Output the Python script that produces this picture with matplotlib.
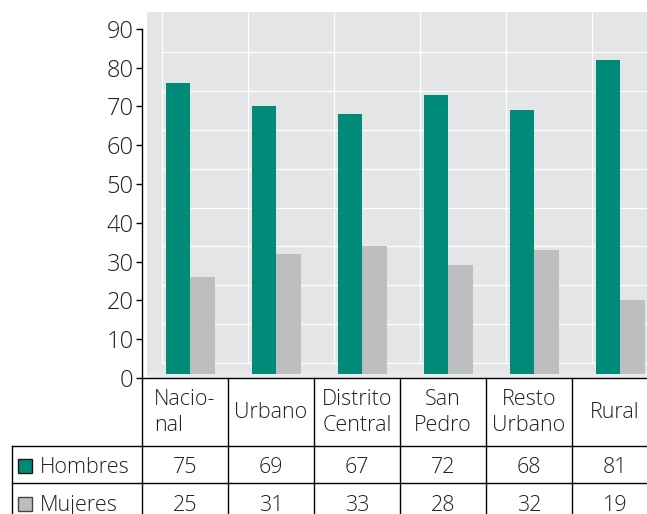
import matplotlib.pyplot as plt
from matplotlib.patches import Rectangle

plt.rcParams['font.family'] = ['Open Sans', 'DejaVu Sans']
plt.rcParams['font.weight'] = 'light'

categories = ["Nacio-\nnal", "Urbano", "Distrito\nCentral", "San\nPedro", "Resto\nUrbano", "Rural"]
hombres = [75, 69, 67, 72, 68, 81]
mujeres = [25, 31, 33, 28, 32, 19]
yticks = [0, 10, 20, 30, 40, 50, 60, 70, 80, 90]

teal = "#008A78"
grey = "#BDBEC0"
txt = "#231F20"

fig = plt.figure(figsize=(6.47, 5.14), dpi=100)
ax = fig.add_axes([142 / 647, 136 / 514, 516 / 647, 366 / 514])
ax.set_xlim(0, 6)
ax.set_ylim(0, 94.33)
ax.patch.set_visible(False)

# plot background (pseudo 3D wall)
ax.add_patch(Rectangle((0.058, 0), 6, 94.33, facecolor="#E4E5E7", edgecolor="none", zorder=0))
ax.add_patch(Rectangle((0.058, 0), 6, 1.2, facecolor="#EAEBEC", edgecolor="none", zorder=0.5))
for v in range(9):
    ax.plot([0.24, 6], [3.9 + 10 * v, 3.9 + 10 * v], color="white", lw=0.9, zorder=1)
for k in range(6):
    ax.plot([k + 0.233, k + 0.233], [3.9, 94.33], color="white", lw=0.9, zorder=1)

n = len(categories)
xs = range(n)
w = 0.285
ax.bar([x + 0.42 for x in xs], hombres, width=w, bottom=1, color=teal, zorder=2)
ax.bar([x + 0.705 for x in xs], mujeres, width=w, bottom=1, color=grey, zorder=2)

# axes styling
for s in ["top", "right"]:
    ax.spines[s].set_visible(False)
ax.spines["left"].set_bounds(0, 90)
ax.spines["left"].set_linewidth(1)
ax.spines["bottom"].set_linewidth(1)
ax.set_yticks(yticks)
ax.set_xticks([])
ax.tick_params(axis="y", direction="out", length=4, width=1, pad=2,
               labelsize=17, labelcolor=txt)

# data table below the chart
y_head = -17.5
y_row1 = -27.06
y_bot = -36
x_left = -1.512
lk = dict(color="black", lw=1, clip_on=False, zorder=3)
ax.plot([0, 0], [0, y_bot], **lk)
for k in range(1, n):
    ax.plot([k, k], [0, y_bot], **lk)
ax.plot([x_left, x_left], [y_head, y_bot], **lk)
ax.plot([x_left, 6], [y_head, y_head], **lk)
ax.plot([x_left, 6], [y_row1, y_row1], **lk)

for k, cat in enumerate(categories):
    ma = "left" if k == 0 else "center"
    ax.text(k + 0.5, -8.9, cat, ha="center", va="center", multialignment=ma,
            fontsize=15.5, color=txt, linespacing=1.3, clip_on=False)
    ax.text(k + 0.5, -23.1, str(hombres[k]), ha="center", va="center",
            fontsize=15.5, color=txt, clip_on=False)
    ax.text(k + 0.5, -32.8, str(mujeres[k]), ha="center", va="center",
            fontsize=15.5, color=txt, clip_on=False)

ax.plot([-1.36], [-22.8], marker="s", markersize=9.5, color=teal,
        markeredgecolor="#1a1a1a", markeredgewidth=1, clip_on=False)
ax.plot([-1.36], [-32.6], marker="s", markersize=9.5, color=grey,
        markeredgecolor="#444444", markeredgewidth=1, clip_on=False)
ax.text(-1.186, -23.1, "Hombres", ha="left", va="center", fontsize=15.5, color=txt, clip_on=False)
ax.text(-1.186, -32.8, "Mujeres", ha="left", va="center", fontsize=15.5, color=txt, clip_on=False)

fig.savefig("out.png", dpi=100)
